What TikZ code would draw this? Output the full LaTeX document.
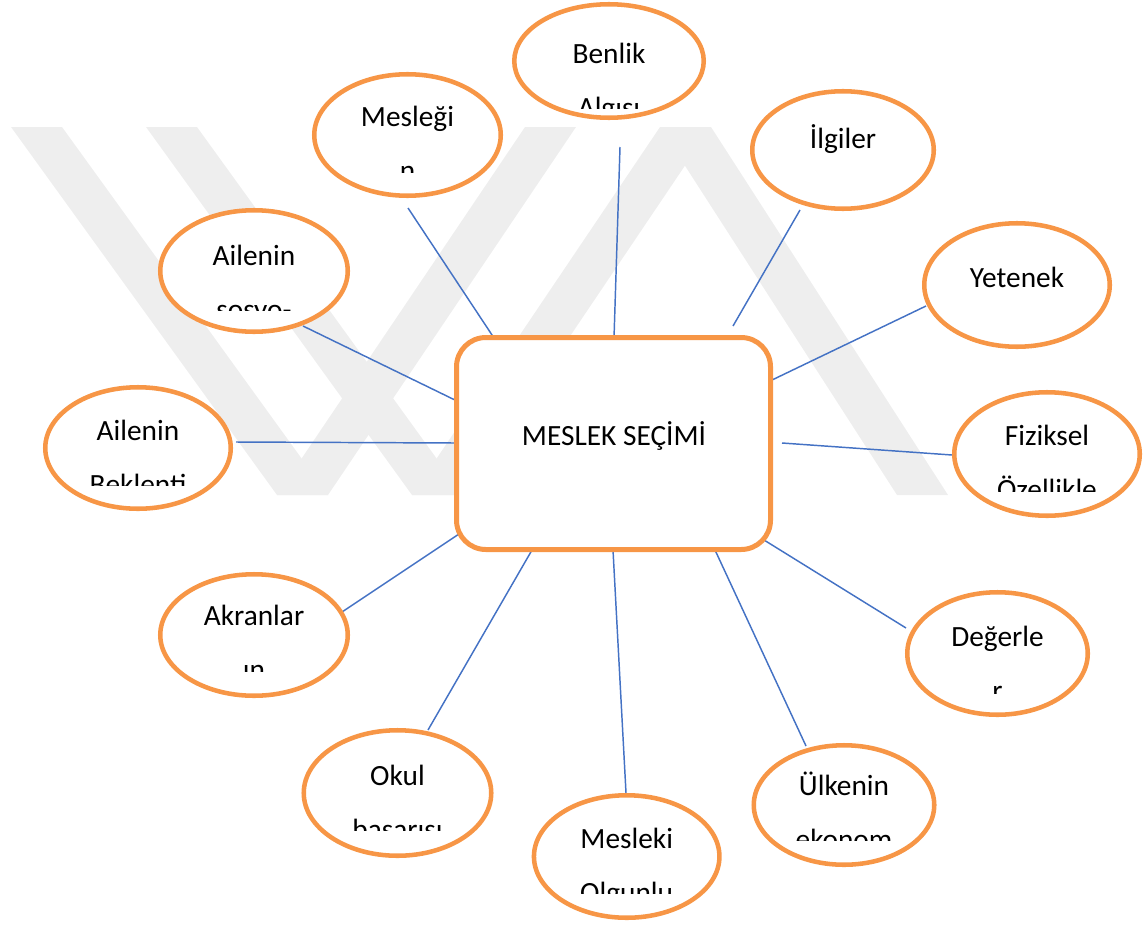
\documentclass[tikz,border=0pt]{standalone}
\usepackage{fontspec}
\setmainfont{Carlito}
\usetikzlibrary{shapes.geometric}
\definecolor{orng}{HTML}{F79646}
\definecolor{lnk}{HTML}{4472C4}
\definecolor{wmk}{HTML}{EEEEEE}
\newcommand\mkbub[9]{%
 \node[bub, minimum width={(2*#4-4.5)*0.75pt}, minimum height={(2*#5-4.5)*0.75pt}] (#1) at (#2,#3) {};
 \begin{scope}
 \clip (#2-100,#3-100) rectangle (#2+100,#7);
 \node[lbl] (#1-t1) at (#2,#6) {#8};
 \node[lbl] (#1-t2) at (#2,#6+54) {#9};
 \end{scope}}
\newcommand\wband[2]{\fill[wmk] (#1,127) -- (#1+51,127) -- (#2+51,495) -- (#2,495) -- cycle;}
\begin{document}
\begin{tikzpicture}[x=0.75pt,y=-0.75pt,
 bub/.style={ellipse, draw=orng, line width=3.4pt, fill=white, inner sep=0pt},
 cbox/.style={rectangle, rounded corners=22pt, draw=orng, line width=3.75pt, fill=white, minimum width=235.5pt, minimum height=159pt, inner sep=0pt},
 lbl/.style={anchor=base, inner sep=0pt, font=\fontsize{22pt}{26pt}\selectfont, text=black},
 link/.style={draw=lnk, line width=1.1pt}]
\useasboundingbox (0,0) rectangle (1144,924);
% faint background watermark
\wband{11}{277}
\wband{525}{277}
\wband{146}{412}
\wband{660}{412}
\wband{660}{897}
% connector end points
\coordinate (p1a) at (408,208);  \coordinate (p1b) at (494,338);
\coordinate (p2a) at (620,147);  \coordinate (p2b) at (614,338);
\coordinate (p3a) at (800,210);  \coordinate (p3b) at (733,326);
\coordinate (p4a) at (926,306);  \coordinate (p4b) at (772,380);
\coordinate (p5a) at (952,455);  \coordinate (p5b) at (782,443);
\coordinate (p6a) at (906,628);  \coordinate (p6b) at (764,540);
\coordinate (p7a) at (806,746);  \coordinate (p7b) at (715,550);
\coordinate (p8a) at (626,793);  \coordinate (p8b) at (613,550);
\coordinate (p9a) at (428,730);  \coordinate (p9b) at (532,550);
\coordinate (p10a) at (342,612); \coordinate (p10b) at (465,530);
\coordinate (p11a) at (236,442); \coordinate (p11b) at (456,443);
\coordinate (p12a) at (303,326); \coordinate (p12b) at (457,401);
\foreach \i in {1,...,12} {\draw[link] (p\i a) -- (p\i b);}
% central box
\node[cbox] (center) at (613.5,443.5) {};
\node[lbl] (ctext) at (614,445) {MESLEK SEÇİMİ};
% bubbles
\mkbub{mes}{407.5}{135}{95.5}{63}{126.7}{172.7}{Mesleği}{n}
\mkbub{ben}{609}{61}{97}{59}{63.3}{108.3}{Benlik}{Algısı}
\mkbub{ilg}{843}{150}{93}{61}{148}{200}{İlgiler}{}
\mkbub{yet}{1017}{285}{95}{64}{287}{340}{Yetenek}{}
\mkbub{fiz}{1047}{454}{95}{64}{445}{491.7}{Fiziksel}{Özellikle}
\mkbub{deg}{997.5}{653.5}{92.5}{63.5}{646.7}{693}{Değerle}{r}
\mkbub{ulk}{844}{805}{92.5}{62}{795}{840}{Ülkenin}{ekonom}
\mkbub{mol}{626.7}{856.5}{95}{63.5}{848.3}{893.3}{Mesleki}{Olgunlu}
\mkbub{oku}{397.5}{793}{96}{65}{785}{830}{Okul}{başarısı}
\mkbub{akr}{254}{635}{96}{63}{625}{671.7}{Akranlar}{ın}
\mkbub{abk}{138}{448}{95}{63}{440}{485}{Ailenin}{Beklenti}
\mkbub{aso}{254}{271}{96}{63}{265}{310}{Ailenin}{sosyo-}
\end{tikzpicture}
\end{document}
